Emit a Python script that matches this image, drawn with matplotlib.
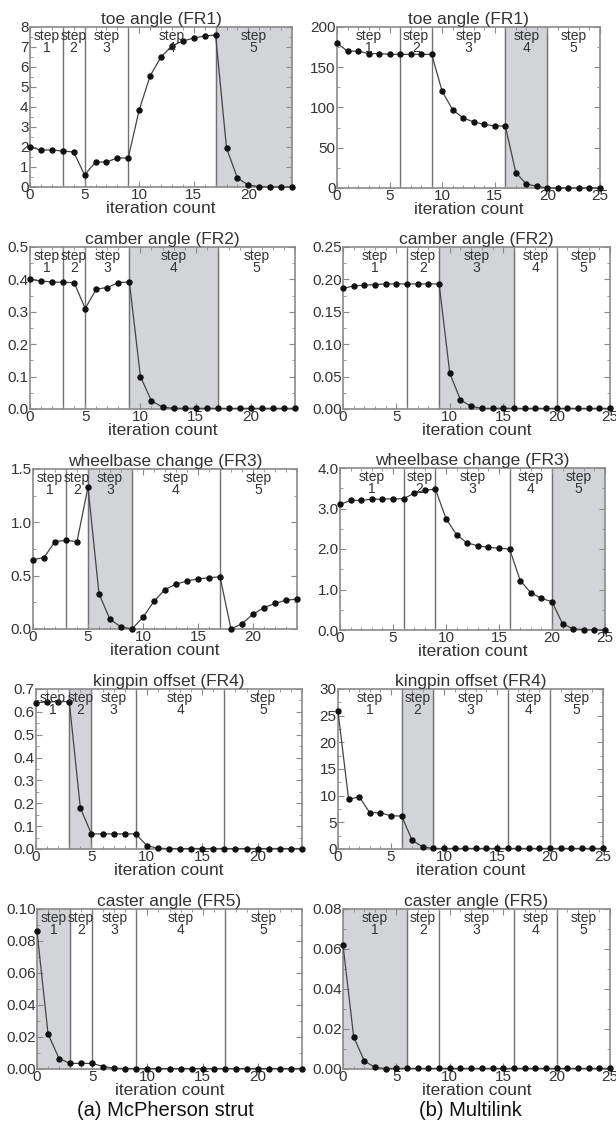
# -*- coding: utf-8 -*-
"""
Convergence of the five functional requirements (FR1..FR5) over the
iteration count, for a McPherson strut and a Multilink suspension.
"""

import numpy as np
import matplotlib.pyplot as plt
from matplotlib.ticker import AutoMinorLocator

plt.rcParams['font.family'] = ['Liberation Sans', 'DejaVu Sans']

# Panel titles (same for both suspensions)
titles = ['toe angle (FR1)', 'camber angle (FR2)', 'wheelbase change (FR3)',
          'kingpin offset (FR4)', 'caster angle (FR5)']

# Step boundaries (iteration numbers) and the shaded step in each panel
mcp_bounds = [3, 5, 9, 17]
ml_bounds = [6, 9, 16, 20]
mcp_shaded = [5, 4, 3, 2, 1]
ml_shaded = [4, 3, 5, 2, 1]

# McPherson strut, iterations 0..24
mcp_toe = [2.0, 1.85, 1.85, 1.8, 1.75, 0.6, 1.25, 1.25, 1.45, 1.45, 3.85,
           5.55, 6.5, 7.05, 7.3, 7.45, 7.55, 7.6, 1.95, 0.45, 0.1, 0.02,
           0.0, 0.0, 0.0]
mcp_camber = [0.40, 0.395, 0.392, 0.391, 0.39, 0.31, 0.37, 0.375, 0.39,
              0.392, 0.10, 0.025, 0.006, 0.002, 0.002, 0.002, 0.002, 0.002,
              0.002, 0.002, 0.002, 0.002, 0.002, 0.002, 0.002]
mcp_wheelbase = [0.65, 0.67, 0.82, 0.83, 0.82, 1.33, 0.33, 0.09, 0.02, 0.0,
                 0.11, 0.26, 0.37, 0.42, 0.45, 0.47, 0.48, 0.49, 0.0, 0.05,
                 0.14, 0.2, 0.24, 0.27, 0.28]
mcp_kingpin = [0.64, 0.643, 0.645, 0.645, 0.18, 0.066, 0.066, 0.066, 0.066,
               0.066, 0.015, 0.003, 0.002, 0.002, 0.002, 0.002, 0.002, 0.002,
               0.002, 0.002, 0.002, 0.002, 0.002, 0.002, 0.002]
mcp_caster = [0.086, 0.022, 0.0065, 0.0035, 0.0035, 0.0035, 0.0015, 0.0005,
              0.0003, 0.0003, 0.0003, 0.0003, 0.0003, 0.0003, 0.0003, 0.0003,
              0.0003, 0.0003, 0.0003, 0.0003, 0.0003, 0.0003, 0.0003, 0.0003,
              0.0003]

# Multilink, iterations 0..25
ml_toe = [180, 170, 170, 167, 167, 166, 166, 166, 166, 166, 120, 97, 87, 82,
          79, 77, 77, 19, 5, 2, 0, 0, 0, 0, 0, 0]
ml_camber = [0.186, 0.19, 0.191, 0.192, 0.193, 0.193, 0.193, 0.193, 0.193,
             0.193, 0.055, 0.014, 0.004, 0.001, 0.001, 0.001, 0.001, 0.001,
             0.001, 0.001, 0.001, 0.001, 0.001, 0.001, 0.001, 0.001]
ml_wheelbase = [3.1, 3.2, 3.2, 3.23, 3.23, 3.24, 3.24, 3.38, 3.45, 3.48,
                2.75, 2.35, 2.15, 2.08, 2.04, 2.02, 2.0, 1.22, 0.92, 0.78,
                0.7, 0.15, 0.03, 0.01, 0.0, 0.0]
ml_kingpin = [25.8, 9.3, 9.8, 6.8, 6.8, 6.2, 6.2, 1.6, 0.4, 0.1, 0.1, 0.1,
              0.1, 0.1, 0.1, 0.1, 0.1, 0.1, 0.1, 0.1, 0.1, 0.1, 0.1, 0.1,
              0.1, 0.1]
ml_caster = [0.062, 0.016, 0.004, 0.0008, 0.0002, 0.0003, 0.0003, 0.0003,
             0.0003, 0.0003, 0.0003, 0.0003, 0.0003, 0.0003, 0.0003, 0.0003,
             0.0003, 0.0003, 0.0003, 0.0003, 0.0003, 0.0003, 0.0003, 0.0003,
             0.0003, 0.0003]

# y axis ticks for each panel
mcp_yticks = [np.arange(0, 9, 1), np.arange(0, 0.51, 0.1),
              np.arange(0, 1.51, 0.5), np.arange(0, 0.71, 0.1),
              np.arange(0, 0.101, 0.02)]
mcp_yfmt = ['%d', '%.1f', '%.1f', '%.1f', '%.2f']
ml_yticks = [np.arange(0, 201, 50), np.arange(0, 0.251, 0.05),
             np.arange(0, 4.01, 1.0), np.arange(0, 31, 5),
             np.arange(0, 0.081, 0.02)]
ml_yfmt = ['%d', '%.2f', '%.1f', '%d', '%.2f']

mcp_data = [mcp_toe, mcp_camber, mcp_wheelbase, mcp_kingpin, mcp_caster]
ml_data = [ml_toe, ml_camber, ml_wheelbase, ml_kingpin, ml_caster]

FG = '#333333'
FRAME = '#8a8a8a'


def step_panel(ax, y, bounds, shaded, xmax, yticks, yfmt, title):
    """
    Draws one convergence panel with step separators, the shaded step and
    the step labels at the top.
    """
    x = np.arange(len(y))
    edges = [0] + bounds + [xmax]
    ymax = yticks[-1]

    # shade the active step
    ax.axvspan(edges[shaded - 1], edges[shaded], color='#d2d4d8', zorder=0)
    for b in bounds:
        ax.axvline(b, color='#707070', lw=1.0, zorder=1)

    ax.plot(x, y, '-', color='#444444', lw=0.9, marker='o', ms=3.6,
            mfc='#111111', mec='#111111', zorder=3, clip_on=False)

    # step labels
    for i in range(5):
        mid = (edges[i] + edges[i + 1]) / 2
        ax.text(mid, ymax * 0.985, 'step\n%d' % (i + 1), ha='center',
                va='top', fontsize=10, color=FG, linespacing=0.8)

    ax.set_xlim(0, xmax)
    ax.set_ylim(0, ymax)
    ax.set_xticks(np.arange(0, xmax + 1, 5))
    ax.set_yticks(yticks)
    ax.set_yticklabels([yfmt % v for v in yticks])
    ax.xaxis.set_minor_locator(AutoMinorLocator(5))
    ax.yaxis.set_minor_locator(AutoMinorLocator(2))
    ax.tick_params(which='both', direction='in', top=True, right=True,
                   color=FRAME, labelcolor=FG, labelsize=11, pad=1)
    ax.tick_params(which='major', length=4)
    ax.tick_params(which='minor', length=2)
    for s in ax.spines.values():
        s.set_color(FRAME)
        s.set_linewidth(1.2)

    ax.set_title(title, fontsize=12.5, color=FG, pad=2)
    ax.set_xlabel('iteration count', fontsize=12.5, color=FG, labelpad=-1)
    return


fig = plt.figure(figsize=(6.16, 11.27), dpi=100)
W, H = 616.0, 1127.0

# pixel boxes (left, top, right, bottom) of the panels
left_boxes = [(30, 27, 292, 187), (30, 247, 295, 409), (33, 469, 297, 629),
              (36, 689, 302, 849), (37, 909, 302, 1069)]
right_boxes = [(337, 27, 600, 188), (343, 247, 610, 409),
               (340, 468, 605, 630), (338, 689, 603, 849),
               (343, 909, 610, 1069)]

for k in range(5):
    l, t, r, b = left_boxes[k]
    ax = fig.add_axes([l / W, 1 - b / H, (r - l) / W, (b - t) / H])
    step_panel(ax, mcp_data[k], mcp_bounds, mcp_shaded[k], 24,
               mcp_yticks[k], mcp_yfmt[k], titles[k])

    l, t, r, b = right_boxes[k]
    ax = fig.add_axes([l / W, 1 - b / H, (r - l) / W, (b - t) / H])
    step_panel(ax, ml_data[k], ml_bounds, ml_shaded[k], 25,
               ml_yticks[k], ml_yfmt[k], titles[k])

fig.text(165 / W, 1 - 1110 / H, '(a) McPherson strut', ha='center',
         va='center', fontsize=14.5, color='#111111')
fig.text(470 / W, 1 - 1110 / H, '(b) Multilink', ha='center',
         va='center', fontsize=14.5, color='#111111')

plt.savefig('out.png', dpi=100)
